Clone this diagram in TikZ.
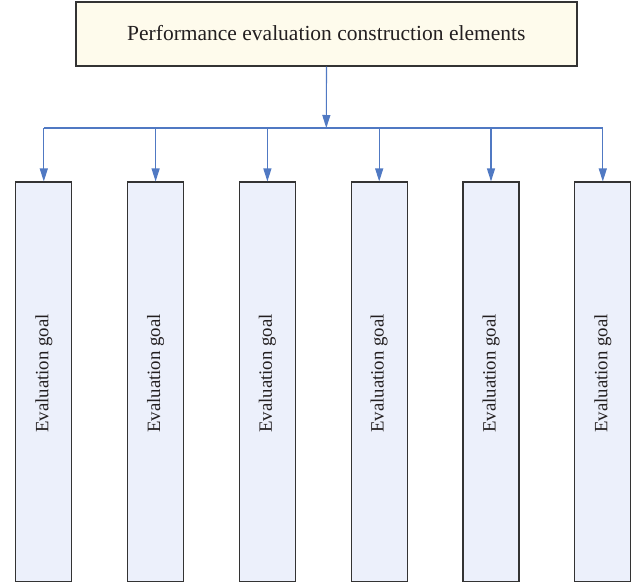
\documentclass[tikz,border=0pt]{standalone}
\usepackage{fontspec}
\setmainfont{Liberation Serif}
\usetikzlibrary{arrows.meta}
\definecolor{topfill}{HTML}{FEFBEC}
\definecolor{boxfill}{HTML}{ECF0FB}
\definecolor{linkblue}{HTML}{5079C3}
\definecolor{edge}{HTML}{333333}
\definecolor{txt}{HTML}{231F20}
\tikzset{
  topbox/.style={draw=edge, line width=1.2pt, fill=topfill, minimum width=501pt, minimum height=64pt, inner sep=0pt},
  goalbox/.style={draw=edge, line width=1.2pt, fill=boxfill, minimum width=56pt, minimum height=399.5pt, inner sep=0pt},
  goaltext/.style={rotate=90, text=txt, font=\fontsize{18.8}{22}\selectfont, inner sep=0pt},
  link/.style={draw=linkblue, line width=1.1pt},
  arr/.style={link, -{Triangle[length=13pt,width=8pt]}}
}
\begin{document}
\begin{tikzpicture}[x=1pt,y=1pt]
\useasboundingbox (0,0) rectangle (637,-584);
\node[topbox] (top) at (326.5,-34) {};
\node[text=txt, font=\fontsize{21.5}{24}\selectfont, inner sep=0pt] (toptext) at (326.3,-33) {Performance evaluation construction elements};
\coordinate (hub) at (326.3,-128);
\draw[arr] (top.south) -- (hub);
\foreach \i in {1,...,6} {
  \pgfmathsetmacro{\cx}{43.8+111.8*(\i-1)}
  \node[goalbox] (g\i) at (\cx,-381.8) {};
  \node[goaltext] (t\i) at (\cx,-373.5) {Evaluation goal};
  \coordinate (j\i) at (\cx,-128);
}
\draw[link] (j1) -- (j6);
\foreach \i in {1,...,6} {
  \draw[arr] (j\i) -- (g\i.north);
}
\end{tikzpicture}
\end{document}
